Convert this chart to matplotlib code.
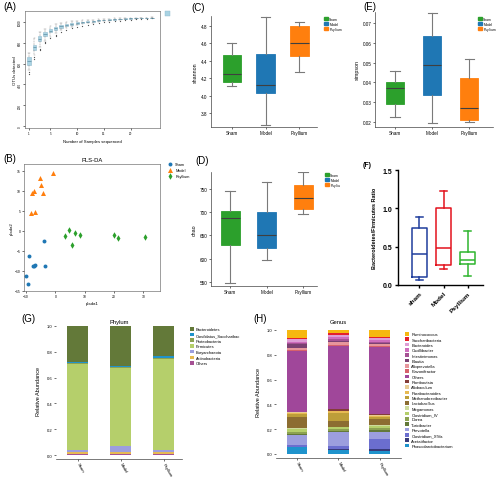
import matplotlib
matplotlib.use('Agg')
import matplotlib.pyplot as plt
import numpy as np
from matplotlib.patches import Patch, Rectangle

plt.rcParams['font.family'] = ['Liberation Sans', 'DejaVu Sans']

# ---------------- data ----------------
groups = ['Sham', 'Model', 'Psyllium']

# (A) rarefaction boxplots
rare_n = list(range(1, 25))
rare_lo = [540, 680, 760, 815, 860, 895, 920, 940, 955, 968, 978, 986, 995, 1002, 1008, 1012, 1017, 1021, 1025, 1029, 1032, 1035, 1037, 1040]
rare_q1 = [587, 735, 815, 862, 900, 928, 946, 961, 973, 983, 991, 998, 1005, 1011, 1015, 1019, 1023, 1026, 1030, 1033, 1035, 1037, 1039, 1041]
rare_med = [626, 758, 839, 881, 916, 942, 958, 971, 981, 990, 997, 1003, 1010, 1016, 1019, 1023, 1026, 1029, 1032, 1035, 1037, 1039, 1040, 1042]
rare_q3 = [661, 781, 865, 900, 932, 955, 969, 980, 989, 997, 1003, 1008, 1014, 1019, 1022, 1026, 1029, 1031, 1034, 1037, 1039, 1040, 1041, 1043]
rare_hi = [700, 845, 905, 935, 962, 980, 990, 1000, 1006, 1012, 1016, 1020, 1024, 1027, 1030, 1032, 1034, 1036, 1038, 1040, 1041, 1042, 1043, 1044]
rare_fliers = [[520, 505], [660, 645], [745, 730], [805, 795], [845], [880, 870], [905], [925], [945], [955],
               [965], [975], [985], [990], [998], [1003], [1008], [1012], [1018], [1022], [1026], [1030], [1033], [1036]]

# (B) PLS-DA scores
sham_x = [-4.0, -9.1, -7.5, -6.8, -7.2, -3.5, -9.9, -9.5]
sham_y = [-2.4, -6.3, -8.7, -8.5, -8.8, -8.8, -11.3, -13.3]
model_x = [-0.7, -5.1, -4.9, -7.4, -8.0, -4.3, -8.3, -6.9]
model_y = [14.5, 13.3, 11.5, 10.1, 9.6, 9.5, 4.5, 4.8]
psy_x = [3.3, 4.6, 5.6, 6.7, 8.3, 20.0, 21.3, 30.7]
psy_y = [-1.2, 0.3, -3.5, -0.6, -1.0, -0.9, -1.8, -1.6]

# (C) shannon  [Sham, Model, Psyllium]
sh_lo = [4.11, 3.66, 4.27]
sh_q1 = [4.16, 4.03, 4.45]
sh_med = [4.25, 4.12, 4.60]
sh_q3 = [4.46, 4.47, 4.79]
sh_hi = [4.60, 4.90, 4.84]

# (D) chao
ch_lo = [547, 598, 696]
ch_q1 = [630, 623, 707]
ch_med = [688, 650, 731]
ch_q3 = [703, 700, 759]
ch_hi = [747, 765, 786]

# (E) simpson
si_lo = [0.0225, 0.0193, 0.0198]
si_q1 = [0.0292, 0.0336, 0.0210]
si_med = [0.0373, 0.0488, 0.0269]
si_q3 = [0.0400, 0.0637, 0.0424]
si_hi = [0.0459, 0.0750, 0.0518]

# (F) Bacteroidetes/Firmicutes ratio
f_labels = ['sham', 'Model', 'Psyllium']
bf_lo = [0.07, 0.21, 0.12]
bf_q1 = [0.10, 0.26, 0.27]
bf_med = [0.40, 0.48, 0.32]
bf_q3 = [0.74, 1.00, 0.43]
bf_hi = [0.89, 1.23, 0.71]

# (G) phylum (bottom -> top)
phylum = ['Others', 'Actinobacteria', 'Euryarchaeota', 'Firmicutes', 'Proteobacteria',
          'Candidatus_Saccharibac', 'Bacteroidetes']
phy_sham = [0.010, 0.010, 0.015, 0.670, 0.005, 0.010, 0.280]
phy_model = [0.010, 0.010, 0.050, 0.605, 0.005, 0.012, 0.308]
phy_psy = [0.010, 0.010, 0.015, 0.710, 0.005, 0.015, 0.235]

# (H) genus (bottom -> top)
genus = ['Phascolarctobacterium', 'Acetatifactor', 'Clostridium_XIVa', 'Prevotella', 'Turicibacter',
         'Dorea', 'Clostridium_IV', 'Megamonas', 'Lactobacillus', 'Methanobrevibacter',
         'Parabacteroides', 'Allobaculum', 'Romboutsia', 'Others', 'Flavonifractor',
         'Alloprevotella', 'Blautia', 'Intestinimonas', 'Oscillibacter', 'Bacteroides',
         'Saccharibacteria', 'Ruminococcus']
gen_sham = [0.055, 0.005, 0.015, 0.080, 0.005, 0.020, 0.020, 0.010, 0.090, 0.020, 0.010, 0.005, 0.005,
            0.490, 0.010, 0.015, 0.030, 0.010, 0.010, 0.020, 0.010, 0.065]
gen_model = [0.035, 0.005, 0.025, 0.115, 0.005, 0.015, 0.015, 0.005, 0.050, 0.060, 0.015, 0.005, 0.010,
             0.510, 0.010, 0.020, 0.015, 0.010, 0.015, 0.020, 0.015, 0.025]
gen_psy = [0.025, 0.015, 0.080, 0.060, 0.015, 0.015, 0.015, 0.005, 0.050, 0.020, 0.010, 0.005, 0.005,
           0.540, 0.010, 0.015, 0.010, 0.010, 0.015, 0.015, 0.010, 0.055]

# ---------------- styles ----------------
grp_colors = ['#2ca02c', '#1f77b4', '#ff7f0e']
f_colors = ['#1f3d9c', '#e3121c', '#2fb52f']
phy_colors = ['#a55194', '#e7ba52', '#9c9ede', '#b5cf6b', '#8ca252', '#1f93cc', '#637939']
gen_colors = ['#1f93cc', '#393b79', '#6b6ecf', '#9c9ede', '#637939', '#8ca252', '#b5cf6b', '#cedb9c',
              '#8c6d31', '#bd9e39', '#e7ba52', '#e7cb94', '#843c39', '#a0479a', '#d6616b', '#e7969c',
              '#7b4173', '#a55194', '#ce6dbd', '#de9ed6', '#e4202c', '#f6b810']

W, H = 500, 481
fig = plt.figure(figsize=(5, 4.81), dpi=100)


def axpx(x0, y0, x1, y1, **kw):
    return fig.add_axes([x0 / W, 1 - y1 / H, (x1 - x0) / W, (y1 - y0) / H], **kw)


def txt(x, y, s, **kw):
    fig.text(x / W, 1 - y / H, s, **kw)


def fp(x, y):
    return (x / W, 1 - y / H)


def small_ticks(ax, size=3, length=1.5):
    ax.tick_params(labelsize=size, length=length, width=0.4, pad=1)


# ---------------- (A) ----------------
axA = axpx(25, 12, 160, 129)
statsA = [dict(whislo=a, q1=b, med=c, q3=d, whishi=e, fliers=f)
          for a, b, c, d, e, f in zip(rare_lo, rare_q1, rare_med, rare_q3, rare_hi, rare_fliers)]
bpA = axA.bxp(statsA, positions=rare_n, widths=0.6, patch_artist=True, showfliers=True,
              boxprops=dict(facecolor='#a9d3e3', edgecolor='#8fb9cb', linewidth=0.4),
              medianprops=dict(color='#5f8fa3', linewidth=0.5),
              whiskerprops=dict(color='#888888', linewidth=0.35, linestyle='--'),
              capprops=dict(color='#888888', linewidth=0.35),
              flierprops=dict(marker='o', markersize=0.7, markerfacecolor='#444444',
                              markeredgecolor='#444444', markeredgewidth=0.2))
axA.set_xlim(0.25, 25.5)
axA.set_ylim(-19, 1106)
small_ticks(axA, 2.2, 1.2)
axA.set_xticks([1, 5, 10, 15, 20])
axA.set_xticklabels(['1', '5', '10', '15', '20'])
axA.set_yticks([0, 200, 400, 600, 800, 1000])
axA.set_yticklabels(['0', '200', '400', '600', '800', '1000'], rotation=90, va='center')
for s in axA.spines.values():
    s.set_linewidth(0.4)
    s.set_color('#555555')
axA.set_xlabel('Number of Samples sequenced', fontsize=3.1, labelpad=3)
axA.set_ylabel('OTUs detected', fontsize=3.1, labelpad=1)
fig.patches.append(Rectangle(fp(165, 17), 5 / W, 5 / H, transform=fig.transFigure,
                             facecolor='#a9d3e3', edgecolor='#8fb9cb', linewidth=0.3))

# ---------------- (B) ----------------
axB = axpx(24, 165, 160, 292)
axB.scatter(sham_x, sham_y, s=8, marker='o', color='#1f77b4', label='Sham', linewidths=0)
axB.scatter(model_x, model_y, s=13, marker='^', color='#ff7f0e', label='Model', linewidths=0)
axB.scatter(psy_x, psy_y, s=11, marker='d', color='#2ca02c', label='Psyllium', linewidths=0)
axB.set_xlim(-10.7, 35.7)
axB.set_ylim(-15, 16.75)
axB.set_xticks([-10, 0, 10, 20, 30])
axB.set_yticks([-15, -10, -5, 0, 5, 10, 15])
small_ticks(axB, 2.4, 1.2)
for s in axB.spines.values():
    s.set_linewidth(0.4)
    s.set_color('#555555')
axB.set_title('PLS-DA', fontsize=4.2, pad=2)
axB.set_xlabel('plsda1', fontsize=3.2, labelpad=2)
axB.set_ylabel('plsda2', fontsize=3.2, labelpad=1)
axB.legend(loc='upper left', bbox_to_anchor=fp(164, 161), bbox_transform=fig.transFigure,
           fontsize=2.8, frameon=False, handletextpad=0.4, labelspacing=0.55, borderpad=0,
           markerscale=1.0)


# ---------------- (C)(D)(E) seaborn-like boxes ----------------
def sbox(ax, lo, q1, med, q3, hi, width):
    st = [dict(whislo=a, q1=b, med=c, q3=d, whishi=e, fliers=[])
          for a, b, c, d, e in zip(lo, q1, med, q3, hi)]
    bp = ax.bxp(st, positions=[0, 1, 2], widths=width, patch_artist=True, showfliers=False,
                boxprops=dict(linewidth=0.6),
                medianprops=dict(color='#3f3f3f', linewidth=0.8),
                whiskerprops=dict(color='#7a7a7a', linewidth=0.8),
                capprops=dict(color='#7a7a7a', linewidth=0.8),
                capwidths=width * 0.5)
    for p, c in zip(bp['boxes'], grp_colors):
        p.set_facecolor(c)
        p.set_edgecolor(c)
    for s in ['top', 'right']:
        ax.spines[s].set_visible(False)
    for s in ['left', 'bottom']:
        ax.spines[s].set_linewidth(0.5)
        ax.spines[s].set_color('#444444')
    small_ticks(ax, 3.3, 1.5)
    ax.set_xticks([0, 1, 2])
    ax.set_xticklabels(groups)


def glegend(ax, x, y):
    hs = [Patch(facecolor=c, edgecolor=c, label=g) for g, c in zip(groups, grp_colors)]
    return ax.legend(handles=hs, loc='upper left', bbox_to_anchor=fp(x, y), bbox_transform=fig.transFigure,
                     fontsize=2.4, frameon=False, handlelength=1.3, handleheight=1.3, handletextpad=0.4,
                     labelspacing=0.3, borderpad=0)


axC = axpx(211, 17, 317, 128)
sbox(axC, sh_lo, sh_q1, sh_med, sh_q3, sh_hi, 0.54)
axC.set_xlim(-0.61, 2.52)
axC.set_ylim(3.64, 4.91)
axC.set_yticks([3.8, 4.0, 4.2, 4.4, 4.6, 4.8])
axC.set_ylabel('shannon', fontsize=3.8, labelpad=2)
glegend(axC, 322, 16)

axD = axpx(211, 173, 317, 287)
sbox(axD, ch_lo, ch_q1, ch_med, ch_q3, ch_hi, 0.52)
axD.set_xlim(-0.52, 2.38)
axD.set_ylim(541, 787)
axD.set_yticks([550, 600, 650, 700, 750])
axD.set_ylabel('chao', fontsize=3.8, labelpad=2)
glegend(axD, 323, 172)

axE = axpx(375, 13, 493, 128)
sbox(axE, si_lo, si_q1, si_med, si_q3, si_hi, 0.49)
axE.set_xlim(-0.54, 2.64)
axE.set_ylim(0.0175, 0.0756)
axE.set_yticks([0.02, 0.03, 0.04, 0.05, 0.06, 0.07])
axE.set_ylabel('simpson', fontsize=3.8, labelpad=2)
glegend(axE, 476, 16)

# white cover (panel F image boundary) over D legend overflow
fig.patches.append(Rectangle(fp(340, 300), 160 / W, 150 / H, transform=fig.transFigure,
                             facecolor='white', edgecolor='none', zorder=1))

# ---------------- (F) ----------------
axF = axpx(398, 171, 483, 286, zorder=2)
stF = [dict(whislo=a, q1=b, med=c, q3=d, whishi=e, fliers=[])
       for a, b, c, d, e in zip(bf_lo, bf_q1, bf_med, bf_q3, bf_hi)]
bpF = axF.bxp(stF, positions=[0, 1, 2], widths=0.62, showfliers=False, capwidths=0.3)
for i, c in enumerate(f_colors):
    bpF['boxes'][i].set_color(c)
    bpF['boxes'][i].set_linewidth(1.1)
    bpF['medians'][i].set_color(c)
    bpF['medians'][i].set_linewidth(1.1)
    for j in (2 * i, 2 * i + 1):
        bpF['whiskers'][j].set_color(c)
        bpF['whiskers'][j].set_linewidth(1.1)
        bpF['caps'][j].set_color(c)
        bpF['caps'][j].set_linewidth(1.1)
axF.set_xlim(-0.88, 2.63)
axF.set_ylim(0, 1.5)
axF.tick_params(labelsize=5, length=2.5, width=1.0, pad=1.5)
axF.tick_params(axis='x', labelsize=4.6)
axF.set_yticks([0.0, 0.5, 1.0, 1.5])
axF.set_yticklabels(['0.0', '0.5', '1.0', '1.5'], fontweight='bold')
axF.set_xticks([0, 1, 2])
axF.set_xticklabels(f_labels, rotation=45, ha='right', rotation_mode='anchor', fontweight='bold')
for s in ['top', 'right']:
    axF.spines[s].set_visible(False)
for s in ['left', 'bottom']:
    axF.spines[s].set_linewidth(1.0)
axF.patch.set_alpha(0)
axF.set_ylabel('Bacteroidetes/Firmicutes Ratio', fontsize=4.0, fontweight='bold', labelpad=4)


# ---------------- (G)(H) stacked bars ----------------
def stacked(ax, rows, colors, width):
    data = np.array(rows)  # groups x taxa
    bottoms = np.zeros(data.shape[0])
    for k in range(data.shape[1]):
        ax.bar([0, 1, 2], data[:, k], bottom=bottoms, width=width, color=colors[k], linewidth=0)
        bottoms = bottoms + data[:, k]
    ax.set_ylim(0, 1)
    for s in ['top', 'right', 'left']:
        ax.spines[s].set_visible(False)
    ax.spines['bottom'].set_position(('outward', 3))
    ax.spines['bottom'].set_linewidth(0.5)
    ax.spines['bottom'].set_color('#444444')
    small_ticks(ax, 3.0, 1.5)
    ax.set_yticks([0.0, 0.2, 0.4, 0.6, 0.8, 1.0])
    ax.set_yticklabels(['0.0', '0.2', '0.4', '0.6', '0.8', '1.0'])
    ax.set_xticks([0, 1, 2])
    ax.set_xticklabels(groups, rotation=-60, ha='left', va='center', rotation_mode='anchor')


axG = axpx(56, 327, 182, 456)
stacked(axG, [phy_sham, phy_model, phy_psy], phy_colors, 0.49)
axG.set_xlim(-0.5, 2.43)
axG.set_title('Phylum', fontsize=4.2, pad=2)
axG.set_ylabel('Relative Abundance', fontsize=4.0, labelpad=4)
hG = [Patch(facecolor=c, label=n) for n, c in zip(phylum, phy_colors)][::-1]
axG.legend(handles=hG, loc='upper left', bbox_to_anchor=fp(188, 326), bbox_transform=fig.transFigure,
           fontsize=2.9, frameon=False, handlelength=1.0, handleheight=1.0, handletextpad=0.5,
           labelspacing=0.38, borderpad=0)

axH = axpx(276, 331, 401, 455)
stacked(axH, [gen_sham, gen_model, gen_psy], gen_colors, 0.5)
axH.set_xlim(-0.51, 2.52)
axH.set_title('Genus', fontsize=4.2, pad=5)
axH.set_ylabel('Relative Abundance', fontsize=4.0, labelpad=4)
hH = [Patch(facecolor=c, label=n) for n, c in zip(genus, gen_colors)][::-1]
axH.legend(handles=hH, loc='upper left', bbox_to_anchor=fp(403, 331), bbox_transform=fig.transFigure,
           fontsize=3.0, frameon=False, handlelength=1.0, handleheight=0.95, handletextpad=0.5,
           labelspacing=0.26, borderpad=0)

# ---------------- panel labels ----------------
for lbl, x, y in [('(A)', 3, 2), ('(B)', 3, 154), ('(C)', 191, 3), ('(D)', 195, 156),
                  ('(E)', 363, 2), ('(G)', 21, 314), ('(H)', 253, 314)]:
    txt(x, y, lbl, fontsize=7, va='top', ha='left')
txt(363, 162, '(F)', fontsize=5, va='top', ha='left', fontweight='bold')

fig.savefig('out.png', dpi=100)
